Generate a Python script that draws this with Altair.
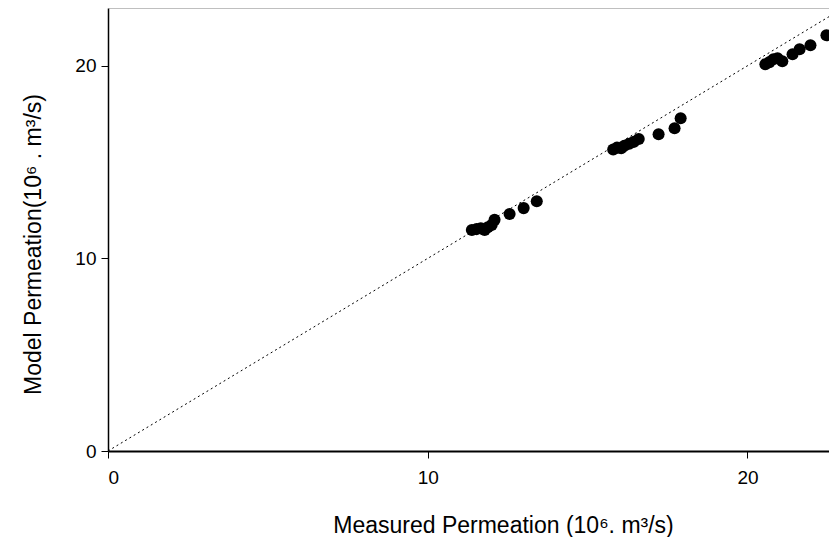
import altair as alt
import pandas as pd

measured = [11.38, 11.53, 11.66, 11.78, 11.88, 12.0, 12.09, 12.56, 13.0, 13.41,
            15.8, 15.92, 16.05, 16.15, 16.3, 16.45, 16.6, 17.22, 17.72, 17.91,
            20.56, 20.69, 20.81, 20.94, 21.09, 21.41, 21.63, 21.97, 22.47]
model = [11.47, 11.52, 11.57, 11.47, 11.62, 11.73, 12.0, 12.3, 12.61, 12.97,
         15.65, 15.75, 15.72, 15.85, 15.95, 16.05, 16.2, 16.45, 16.76, 17.28,
         20.08, 20.19, 20.34, 20.39, 20.24, 20.6, 20.86, 21.07, 21.59]
line_vals = [0, 23]
tick_vals = [0, 10, 20]

points = pd.DataFrame({"measured": measured, "model": model})
diag = pd.DataFrame({"measured": line_vals, "model": line_vals})

FONT = "Liberation Sans"
W, H = 721, 443

x_scale = alt.Scale(domain=[0, 22.55], nice=False, zero=False)
y_scale = alt.Scale(domain=[0, 23], nice=False, zero=False)

xax = alt.Axis(values=tick_vals, title="Measured Permeation (10⁶. m³/s)", grid=False,
               tickSize=7, tickColor="black", domainColor="black", domainWidth=2,
               labelFont=FONT, labelFontSize=19, labelColor="black", labelPadding=10,
               titleFont=FONT, titleFontSize=23, titleFontWeight="normal", titleColor="black",
               titleX=395, titleY=74, titleAlign="center", titleBaseline="middle")
yax = alt.Axis(values=tick_vals, title="Model Permeation(10⁶ . m³/s)", grid=False,
               tickSize=7, tickColor="black", domainColor="black", domainWidth=1.5,
               labelFont=FONT, labelFontSize=19, labelColor="black", labelPadding=5,
               titleFont=FONT, titleFontSize=23, titleFontWeight="normal", titleColor="black",
               titleX=-75, titleY=236, titleAngle=270, titleAlign="center", titleBaseline="middle")

line = alt.Chart(diag).mark_line(color="black", strokeDash=[2, 3], strokeWidth=1, clip=True).encode(
    x=alt.X("measured:Q", scale=x_scale, axis=xax),
    y=alt.Y("model:Q", scale=y_scale, axis=yax),
)
pts = alt.Chart(points).mark_circle(size=145, color="black", opacity=1).encode(
    x=alt.X("measured:Q", scale=x_scale),
    y=alt.Y("model:Q", scale=y_scale),
)
top = alt.Chart(pd.DataFrame({"a": [0]})).mark_rule(color="#808080", strokeWidth=1).encode(
    x=alt.value(0), x2=alt.value(W), y=alt.value(0)
)

chart = alt.layer(line, pts, top).properties(
    width=W, height=H,
    padding={"left": 100, "top": 0, "right": 0, "bottom": 86},
    autosize=alt.AutoSizeParams(type="none"),
).configure_view(stroke=None)

chart.save("out.html", embed_options={"renderer": "svg", "actions": False})
